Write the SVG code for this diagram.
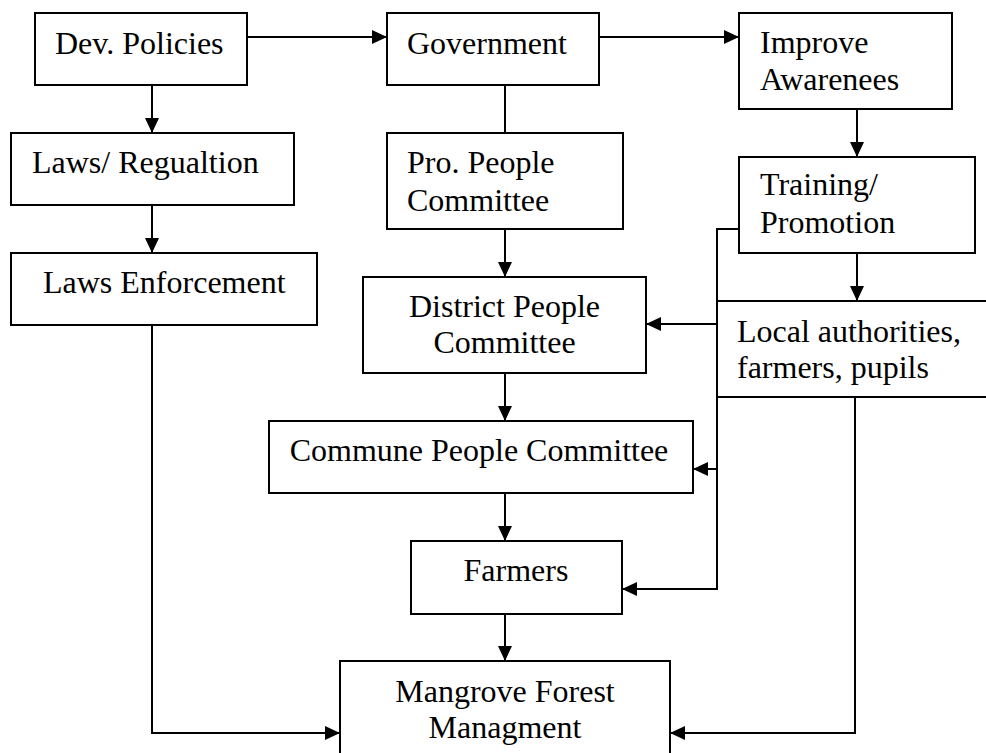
<svg xmlns="http://www.w3.org/2000/svg" width="986" height="753" viewBox="0 0 986 753">
  <style>
    .box { fill: #ffffff; stroke: #000000; stroke-width: 2; }
    .lbl { font-family: "Liberation Serif", "Times New Roman", serif; font-size: 32px; fill: #000000; }
    .mid { text-anchor: middle; }
    .wire { fill: none; stroke: #000000; stroke-width: 2; }
    .arrow { marker-end: url(#head); }
  </style>
  <defs>
    <marker id="head" markerUnits="userSpaceOnUse" markerWidth="16" markerHeight="14" refX="15" refY="7" orient="auto">
      <path d="M0,0 L15,7 L0,14 Z" fill="#000000"/>
    </marker>
  </defs>
  <rect width="986" height="753" fill="#ffffff"/>

  <g id="connectors">
    <path class="wire arrow" d="M247,37 H387"/>
    <path class="wire arrow" d="M599,37 H739"/>
    <path class="wire arrow" d="M152,85 V133"/>
    <path class="wire arrow" d="M152,205 V253"/>
    <path class="wire arrow" d="M152,325 V733 H340"/>
    <path class="wire" d="M505,85 V133"/>
    <path class="wire arrow" d="M505,229 V277"/>
    <path class="wire arrow" d="M505,373 V421"/>
    <path class="wire arrow" d="M505,493 V541"/>
    <path class="wire arrow" d="M505,614 V661"/>
    <path class="wire arrow" d="M857,109 V157"/>
    <path class="wire arrow" d="M857,253 V301"/>
    <path class="wire arrow" d="M739,229 H717 V589 H622"/>
    <path class="wire arrow" d="M717,324 H646"/>
    <path class="wire arrow" d="M717,469 H693"/>
    <path class="wire arrow" d="M855,397 V733 H670"/>
  </g>

  <g id="dev-policies">
    <rect class="box" x="35" y="13" width="212" height="72"/>
    <text class="lbl" x="55" y="54">Dev. Policies</text>
  </g>
  <g id="government">
    <rect class="box" x="387" y="13" width="212" height="72"/>
    <text class="lbl" x="407" y="54">Government</text>
  </g>
  <g id="improve-awareness">
    <rect class="box" x="739" y="13" width="213" height="96"/>
    <text class="lbl" x="760" y="53">Improve</text>
    <text class="lbl" x="760" y="90">Awarenees</text>
  </g>
  <g id="laws-regulation">
    <rect class="box" x="11" y="133" width="283" height="72"/>
    <text class="lbl" x="32" y="173">Laws/ Regualtion</text>
  </g>
  <g id="pro-people-committee">
    <rect class="box" x="387" y="133" width="236" height="96"/>
    <text class="lbl" x="407" y="173">Pro. People</text>
    <text class="lbl" x="407" y="211">Committee</text>
  </g>
  <g id="training-promotion">
    <rect class="box" x="739" y="157" width="236" height="96"/>
    <text class="lbl" x="760" y="195">Training/</text>
    <text class="lbl" x="760" y="233">Promotion</text>
  </g>
  <g id="laws-enforcement">
    <rect class="box" x="11" y="253" width="306" height="72"/>
    <text class="lbl" x="43" y="293">Laws Enforcement</text>
  </g>
  <g id="district-people-committee">
    <rect class="box" x="363" y="277" width="283" height="96"/>
    <text class="lbl mid" x="504.5" y="317">District People</text>
    <text class="lbl mid" x="504.5" y="353">Committee</text>
  </g>
  <g id="local-stakeholders">
    <rect class="box" x="717" y="301" width="280" height="96"/>
    <text class="lbl" x="737" y="342">Local authorities,</text>
    <text class="lbl" x="737" y="378">farmers, pupils</text>
  </g>
  <g id="commune-people-committee">
    <rect class="box" x="269" y="421" width="424" height="72"/>
    <text class="lbl mid" x="479" y="461">Commune People Committee</text>
  </g>
  <g id="farmers">
    <rect class="box" x="411" y="541" width="211" height="73"/>
    <text class="lbl mid" x="516" y="581">Farmers</text>
  </g>
  <g id="mangrove-forest-management">
    <rect class="box" x="340" y="661" width="330" height="110"/>
    <text class="lbl mid" x="505" y="702">Mangrove Forest</text>
    <text class="lbl mid" x="505" y="738">Managment</text>
  </g>
</svg>
